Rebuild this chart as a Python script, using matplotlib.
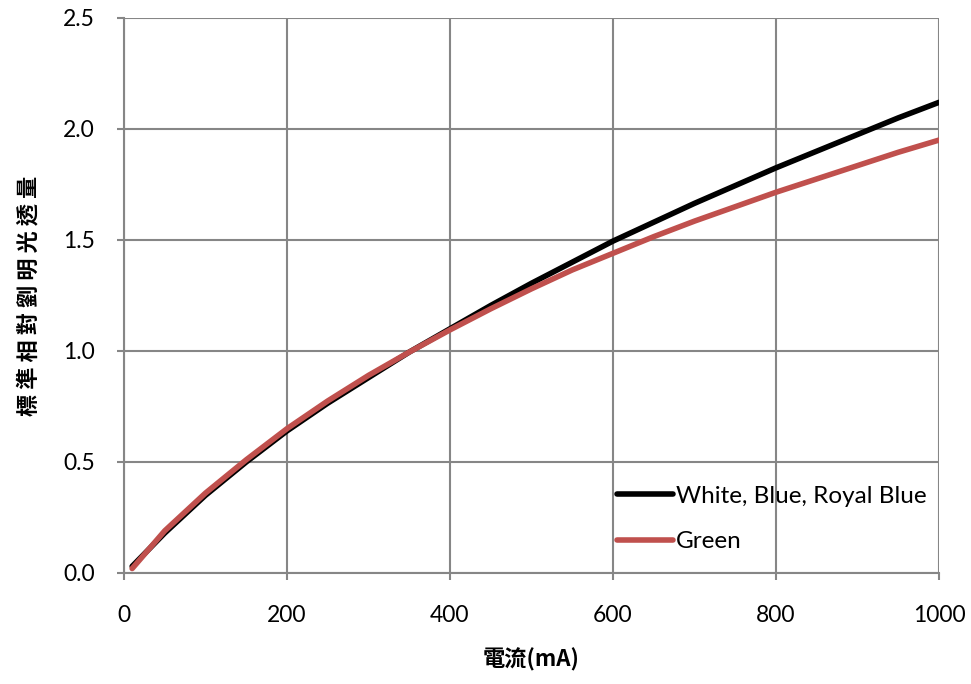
import matplotlib
matplotlib.use('Agg')
from matplotlib import pyplot as plt

current = [10, 50, 100, 150, 200, 250, 300, 350, 400, 450, 500, 550, 600,
           650, 700, 750, 800, 850, 900, 950, 1000]
white_blue = [0.03, 0.18, 0.35, 0.50, 0.64, 0.765, 0.88, 0.995, 1.10, 1.205,
              1.305, 1.40, 1.495, 1.58, 1.665, 1.745, 1.825, 1.90, 1.975,
              2.05, 2.12]
green = [0.02, 0.19, 0.36, 0.51, 0.65, 0.775, 0.89, 0.995, 1.095, 1.19,
         1.28, 1.365, 1.44, 1.515, 1.585, 1.65, 1.715, 1.775, 1.835,
         1.895, 1.95]
x_ticks = [0, 200, 400, 600, 800, 1000]
y_ticks = [0.0, 0.5, 1.0, 1.5, 2.0, 2.5]

plt.rcParams['font.family'] = ['Lato', 'Noto Sans CJK TC', 'DejaVu Sans']

fig = plt.figure(figsize=(9.71, 6.84), dpi=100)
ax = fig.add_axes([0.1277, 0.1623, 0.8393, 0.8114])

ax.plot(current, white_blue, color='black', lw=4, solid_capstyle='round',
        label='White, Blue, Royal Blue')
ax.plot(current, green, color='#c0504d', lw=4, solid_capstyle='round',
        label='Green')

ax.set_xlim(0, 1000)
ax.set_ylim(0, 2.5)
ax.set_xticks(x_ticks)
ax.set_yticks(y_ticks)
ax.set_yticklabels(['%.1f' % v for v in y_ticks])
ax.grid(True, color='#868686', lw=1.5)
ax.set_axisbelow(True)
for side in ['top', 'right']:
    ax.spines[side].set_visible(False)
for side in ['left', 'bottom']:
    ax.spines[side].set_color('#868686')
    ax.spines[side].set_linewidth(1.5)
ax.tick_params(length=5, width=1.5, color='#868686', labelsize=16.5)
ax.tick_params(axis='x', pad=18)
ax.tick_params(axis='y', pad=16)

ax.set_xlabel('電流(mA)', fontsize=16, fontweight='bold',
              family=['Noto Sans CJK TC', 'Lato'], labelpad=16)
ax.set_ylabel(' '.join('標準相對劉明光透量'), fontsize=16, fontweight='bold',
              family=['Noto Sans CJK TC', 'DejaVu Sans'], labelpad=16)

ax.legend(loc='lower right', bbox_to_anchor=(0.997, 0.02), frameon=False,
          borderaxespad=0, fontsize=17.5, handlelength=2.3,
          handletextpad=0.15, labelspacing=1.0)

fig.savefig('out.png', dpi=100)
